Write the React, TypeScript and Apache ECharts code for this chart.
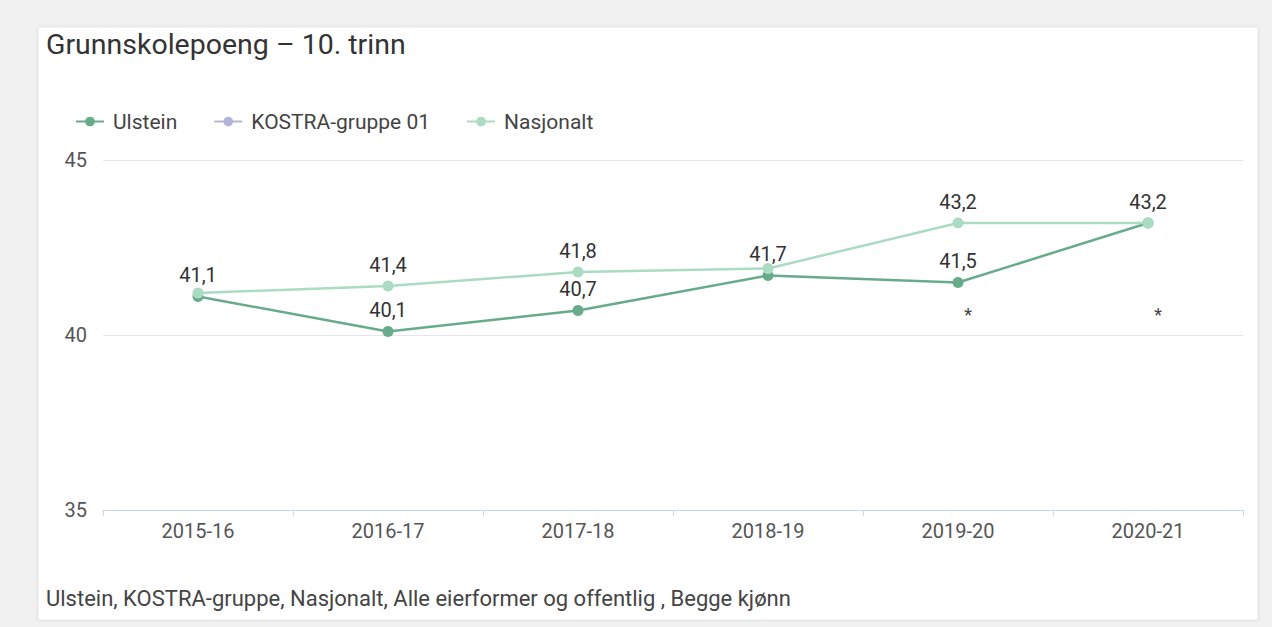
import React, { useEffect, useRef } from "react";
import * as echarts from "echarts";

const categories = ["2015-16", "2016-17", "2017-18", "2018-19", "2019-20", "2020-21"];
const ulstein = [41.1, 40.1, 40.7, 41.7, 41.5, 43.2];
const kostra: (number | null)[] = [null, null, null, null, null, null];
const nasjonalt = [41.2, 41.4, 41.8, 41.9, 43.2, 43.2];
const ulsteinLabelShown = [true, true, true, true, true, true];
const nasjonaltLabelShown = [false, true, true, false, true, false];
const footnoteCategories = ["2019-20", "2020-21"];
const yTicks = { min: 35, max: 45, interval: 5 };

const FONT = "Roboto, 'Noto Sans', sans-serif";
const fmt = (v: number) => v.toFixed(1).replace(".", ",");

export default function App() {
  const ref = useRef<HTMLDivElement>(null);
  useEffect(() => {
    if (!ref.current) return;
    const chart = echarts.init(ref.current, undefined, { renderer: "svg" });
    const labelStyle = {
      show: true,
      position: "top" as const,
      distance: 6,
      fontSize: 20,
      color: "#333",
      fontFamily: FONT,
      formatter: (p: any) => fmt(p.value),
    };
    chart.setOption({
      animation: false,
      backgroundColor: "#f1f1f1",
      textStyle: { fontFamily: FONT },
      graphic: [
        {
          id: "card",
          type: "rect",
          z: -10,
          shape: { x: 38, y: 27, width: 1220, height: 593 },
          style: { fill: "#ffffff", stroke: "#e6e6e6", lineWidth: 1, shadowBlur: 3, shadowColor: "rgba(0,0,0,0.08)" },
          silent: true,
        },
        {
          id: "title",
          type: "text",
          left: 46,
          top: 30,
          style: { text: "Grunnskolepoeng – 10. trinn", fontSize: 28.5, fill: "#333", fontFamily: FONT },
        },
        {
          id: "footer",
          type: "text",
          left: 46,
          top: 587,
          style: {
            text: "Ulstein, KOSTRA-gruppe, Nasjonalt, Alle eierformer og offentlig , Begge kjønn",
            fontSize: 22,
            fill: "#444",
            fontFamily: FONT,
          },
        },
      ],
      legend: {
        left: 70,
        top: 106,
        itemGap: 36,
        itemWidth: 28,
        itemHeight: 12,
        data: ["Ulstein", "KOSTRA-gruppe 01", "Nasjonalt"],
        textStyle: { fontSize: 21, color: "#444", fontFamily: FONT, padding: [0, 0, 0, 4] },
      },
      grid: { left: 103, right: 29, top: 160, bottom: 117 },
      xAxis: {
        type: "category",
        data: categories,
        boundaryGap: true,
        axisLine: { lineStyle: { color: "#ccd6eb", width: 1 } },
        axisTick: { show: true, length: 6, lineStyle: { color: "#ccd6eb" } },
        axisLabel: { fontSize: 20, color: "#555", margin: 11, fontFamily: FONT },
      },
      yAxis: {
        type: "value",
        min: yTicks.min,
        max: yTicks.max,
        interval: yTicks.interval,
        axisLine: { show: false },
        axisTick: { show: false },
        axisLabel: { fontSize: 20, color: "#555", margin: 16, fontFamily: FONT },
        splitLine: { lineStyle: { color: "#e6e6e6", width: 1 } },
      },
      series: [
        {
          name: "Ulstein",
          type: "line",
          z: 3,
          data: ulstein.map((v, i) => ({ value: v, label: { show: ulsteinLabelShown[i] } })),
          symbol: "circle",
          symbolSize: 11,
          itemStyle: { color: "#68ab8b" },
          lineStyle: { color: "#68ab8b", width: 2.5 },
          label: labelStyle,
        },
        {
          name: "KOSTRA-gruppe 01",
          type: "line",
          z: 2,
          data: kostra,
          symbol: "circle",
          symbolSize: 11,
          itemStyle: { color: "#b4b4d8" },
          lineStyle: { color: "#b4b4d8", width: 2.5 },
        },
        {
          name: "Nasjonalt",
          type: "line",
          z: 4,
          data: nasjonalt.map((v, i) => ({ value: v, label: { show: nasjonaltLabelShown[i] } })),
          symbol: "circle",
          symbolSize: 11,
          itemStyle: { color: "#acdbc4" },
          lineStyle: { color: "#acdbc4", width: 2.5 },
          label: labelStyle,
        },
      ],
    });
    const notes = footnoteCategories.map((c, i) => {
      const x = chart.convertToPixel({ xAxisIndex: 0 }, c) as number;
      return {
        id: "note" + i,
        type: "text",
        x: x + 10,
        y: 314,
        style: { text: "*", fontSize: 18, fill: "#444", align: "center", verticalAlign: "middle", fontFamily: FONT },
      };
    });
    chart.setOption({ graphic: notes });
    return () => chart.dispose();
  }, []);
  return <div ref={ref} style={{ position: "absolute", left: 0, top: 0, width: 1272, height: 627 }} />;
}
